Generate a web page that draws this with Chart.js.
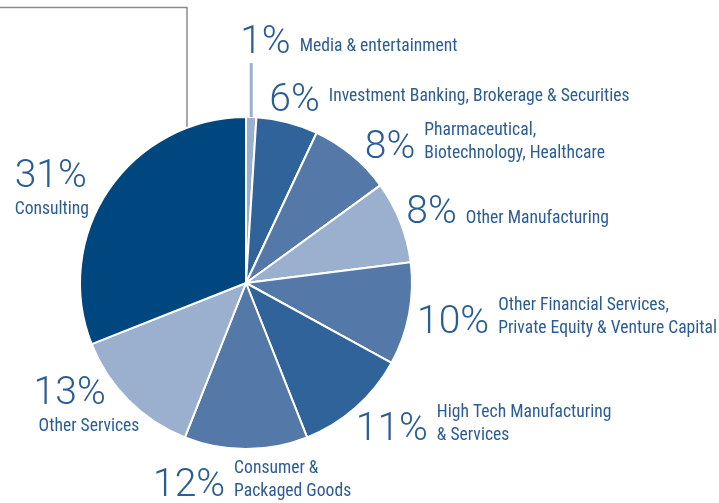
<!DOCTYPE html>
<html>
<head>
<meta charset="utf-8">
<script src="https://cdn.jsdelivr.net/npm/chart.js@4"></script>
<style>
  html, body { margin: 0; padding: 0; background: #fff; }
  canvas { display: block; }
</style>
</head>
<body>
<canvas id="pie" width="719" height="503"></canvas>
<script>
// slices, clockwise from 12 o'clock
const categories = [
  ['Media & entertainment'],
  ['Investment Banking, Brokerage & Securities'],
  ['Pharmaceutical,', 'Biotechnology, Healthcare'],
  ['Other Manufacturing'],
  ['Other Financial Services,', 'Private Equity & Venture Capital'],
  ['High Tech Manufacturing', '& Services'],
  ['Consumer &', 'Packaged Goods'],
  ['Other Services'],
  ['Consulting']
];
const shares = [1, 6, 8, 8, 10, 11, 12, 13, 31];
const sliceColors = ['#9bafcf', '#30639a', '#5479a9', '#9bafcf', '#5479a9', '#30639a', '#5479a9', '#9bafcf', '#00467f'];

// label placement relative to the outer edge of each slice: [dx, dy, mode, textDy]
const labelPlace = [
  [-11, -64, 'right', -2],
  [-18, -11, 'right', -10],
  [13, 3, 'right', 0],
  [6, 1, 'right', 0],
  [8, 19, 'right', 0],
  [0, 32, 'right', 0],
  [-93, 47, 'right', 0],
  [-95, 4, 'below', 27],
  [-94, -3, 'below', 27]
];

const textBlue = '#2b5d95';
const numFont = '300 39px Roboto, "Liberation Sans", sans-serif';
const txtFont = '17.6px "Liberation Sans Narrow", "Roboto Condensed", "DejaVu Sans Condensed", sans-serif';

const sliceLabels = {
  id: 'sliceLabels',
  beforeDatasetsDraw(chart) {
    // thin gray frame line behind the pie
    const ctx = chart.ctx;
    ctx.save();
    ctx.strokeStyle = '#8c8c8c';
    ctx.lineWidth = 1.5;
    ctx.beginPath();
    ctx.moveTo(0, 7.5);
    ctx.lineTo(187, 7.5);
    ctx.lineTo(187, 200);
    ctx.stroke();
    ctx.restore();
  },
  afterDatasetsDraw(chart) {
    const ctx = chart.ctx;
    const meta = chart.getDatasetMeta(0);
    ctx.save();
    meta.data.forEach((arc, i) => {
      const mid = (arc.startAngle + arc.endAngle) / 2;
      const ox = arc.x + Math.cos(mid) * arc.outerRadius;
      const oy = arc.y + Math.sin(mid) * arc.outerRadius;
      const [dx, dy, mode, tdy] = labelPlace[i];
      const nx = ox + dx, ny = oy + dy;

      if (i === 0) {
        // leader line for the thin slice
        ctx.strokeStyle = sliceColors[0];
        ctx.lineWidth = 3;
        ctx.beginPath();
        ctx.moveTo(ox, oy);
        ctx.lineTo(ox, ny + 10);
        ctx.stroke();
      }

      const num = shares[i] + '%';
      ctx.fillStyle = textBlue;
      ctx.textBaseline = 'alphabetic';
      ctx.textAlign = 'left';
      ctx.font = numFont;
      ctx.fillText(num, nx, ny);
      const w = ctx.measureText(num).width;

      ctx.font = txtFont;
      const lines = categories[i];
      if (mode === 'right') {
        const tx = nx + w + 9;
        const base = ny + tdy - (lines.length - 1) * 23;
        lines.forEach((ln, k) => ctx.fillText(ln, tx, base + k * 23));
      } else {
        lines.forEach((ln, k) => ctx.fillText(ln, nx + (i === 7 ? 5 : 0), ny + tdy + k * 23));
      }
    });
    ctx.restore();
  }
};

new Chart(document.getElementById('pie'), {
  type: 'pie',
  data: {
    labels: categories,
    datasets: [{
      data: shares,
      backgroundColor: sliceColors,
      borderColor: '#ffffff',
      borderWidth: 2
    }]
  },
  options: {
    responsive: false,
    animation: false,
    layout: { padding: { top: 116, bottom: 53, left: 79, right: 306 } },
    plugins: {
      legend: { display: false },
      tooltip: { enabled: false }
    }
  },
  plugins: [sliceLabels]
});
</script>
</body>
</html>
